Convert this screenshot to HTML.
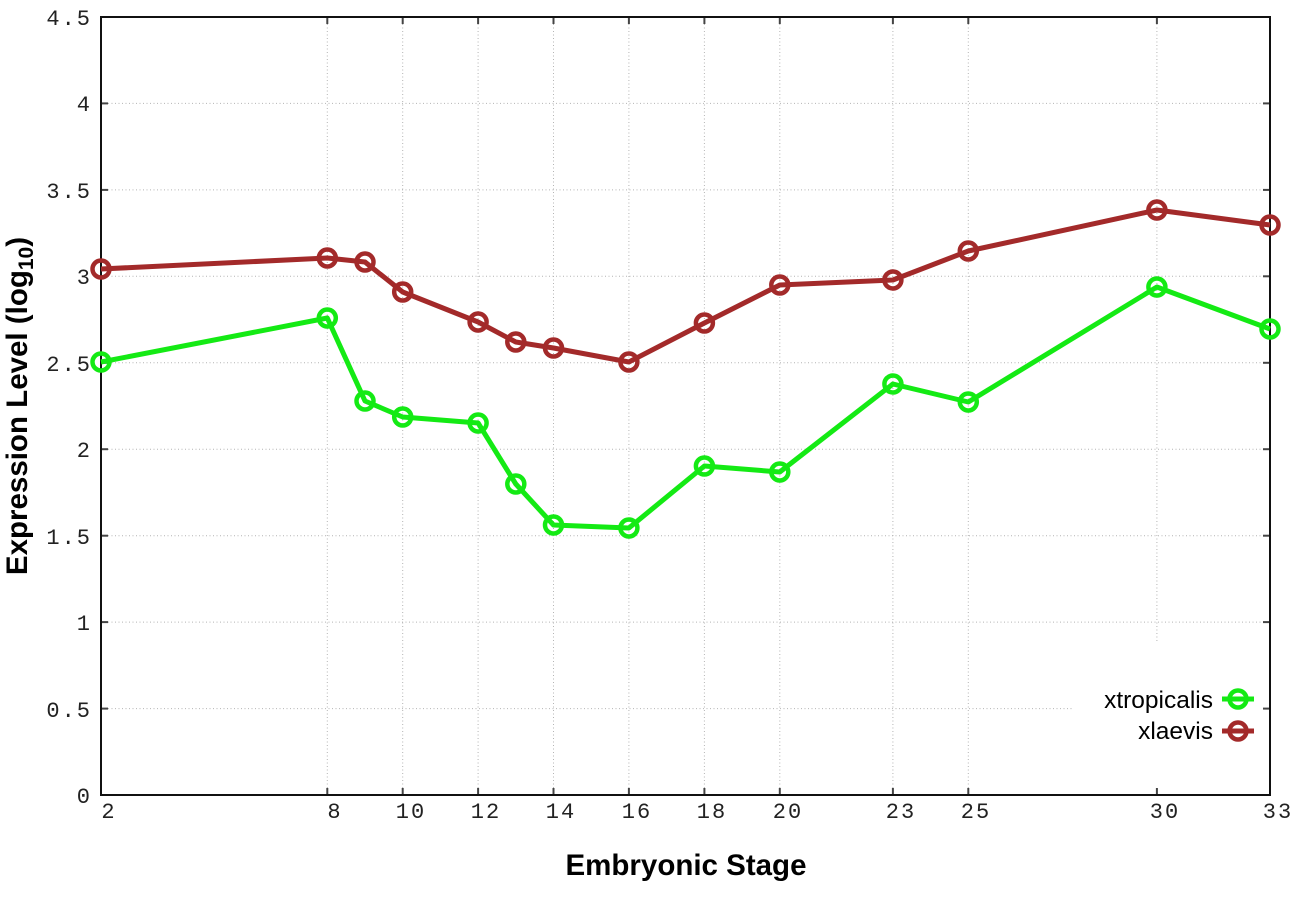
<!DOCTYPE html>
<html><head><meta charset="utf-8"><style>
html,body{margin:0;padding:0;background:#fff;}
svg{display:block;}
</style></head><body>
<svg width="1296" height="907" viewBox="0 0 1296 907" xmlns="http://www.w3.org/2000/svg">
<rect width="1296" height="907" fill="#fff"/>
<!-- grid -->
<g stroke="#b4b4b4" stroke-width="1" stroke-dasharray="1,2.5" fill="none">
<line x1="101" y1="103.4" x2="1270" y2="103.4"/>
<line x1="101" y1="189.9" x2="1270" y2="189.9"/>
<line x1="101" y1="276.3" x2="1270" y2="276.3"/>
<line x1="101" y1="362.8" x2="1270" y2="362.8"/>
<line x1="101" y1="449.2" x2="1270" y2="449.2"/>
<line x1="101" y1="535.7" x2="1270" y2="535.7"/>
<line x1="101" y1="622.1" x2="1270" y2="622.1"/>
<line x1="101" y1="708.6" x2="1270" y2="708.6"/>
<line x1="327.3" y1="17" x2="327.3" y2="795"/>
<line x1="402.7" y1="17" x2="402.7" y2="795"/>
<line x1="478.1" y1="17" x2="478.1" y2="795"/>
<line x1="553.5" y1="17" x2="553.5" y2="795"/>
<line x1="628.9" y1="17" x2="628.9" y2="795"/>
<line x1="704.4" y1="17" x2="704.4" y2="795"/>
<line x1="779.8" y1="17" x2="779.8" y2="795"/>
<line x1="892.9" y1="17" x2="892.9" y2="795"/>
<line x1="968.3" y1="17" x2="968.3" y2="795"/>
<line x1="1156.9" y1="17" x2="1156.9" y2="795"/>
</g>
<!-- legend box -->
<rect x="1072" y="642" width="197" height="152" fill="#fff"/>
<!-- ticks -->
<g stroke="#444" stroke-width="2">
<line x1="101" y1="103.4" x2="108" y2="103.4"/><line x1="1270" y1="103.4" x2="1263" y2="103.4"/>
<line x1="101" y1="189.9" x2="108" y2="189.9"/><line x1="1270" y1="189.9" x2="1263" y2="189.9"/>
<line x1="101" y1="276.3" x2="108" y2="276.3"/><line x1="1270" y1="276.3" x2="1263" y2="276.3"/>
<line x1="101" y1="362.8" x2="108" y2="362.8"/><line x1="1270" y1="362.8" x2="1263" y2="362.8"/>
<line x1="101" y1="449.2" x2="108" y2="449.2"/><line x1="1270" y1="449.2" x2="1263" y2="449.2"/>
<line x1="101" y1="535.7" x2="108" y2="535.7"/><line x1="1270" y1="535.7" x2="1263" y2="535.7"/>
<line x1="101" y1="622.1" x2="108" y2="622.1"/><line x1="1270" y1="622.1" x2="1263" y2="622.1"/>
<line x1="101" y1="708.6" x2="108" y2="708.6"/><line x1="1270" y1="708.6" x2="1263" y2="708.6"/>
<line x1="327.3" y1="795" x2="327.3" y2="788"/><line x1="327.3" y1="17" x2="327.3" y2="24"/>
<line x1="402.7" y1="795" x2="402.7" y2="788"/><line x1="402.7" y1="17" x2="402.7" y2="24"/>
<line x1="478.1" y1="795" x2="478.1" y2="788"/><line x1="478.1" y1="17" x2="478.1" y2="24"/>
<line x1="553.5" y1="795" x2="553.5" y2="788"/><line x1="553.5" y1="17" x2="553.5" y2="24"/>
<line x1="628.9" y1="795" x2="628.9" y2="788"/><line x1="628.9" y1="17" x2="628.9" y2="24"/>
<line x1="704.4" y1="795" x2="704.4" y2="788"/><line x1="704.4" y1="17" x2="704.4" y2="24"/>
<line x1="779.8" y1="795" x2="779.8" y2="788"/><line x1="779.8" y1="17" x2="779.8" y2="24"/>
<line x1="892.9" y1="795" x2="892.9" y2="788"/><line x1="892.9" y1="17" x2="892.9" y2="24"/>
<line x1="968.3" y1="795" x2="968.3" y2="788"/><line x1="968.3" y1="17" x2="968.3" y2="24"/>
<line x1="1156.9" y1="795" x2="1156.9" y2="788"/><line x1="1156.9" y1="17" x2="1156.9" y2="24"/>
</g>
<!-- frame -->
<rect x="101" y="17" width="1169" height="778" fill="none" stroke="#111" stroke-width="2"/>
<!-- y tick labels -->
<g font-family="'Liberation Mono', monospace" font-size="22" fill="#222" text-anchor="end" letter-spacing="2">
<text x="92" y="25">4.5</text>
<text x="92" y="111">4</text>
<text x="92" y="198">3.5</text>
<text x="92" y="284">3</text>
<text x="92" y="371">2.5</text>
<text x="92" y="457">2</text>
<text x="92" y="544">1.5</text>
<text x="92" y="630">1</text>
<text x="92" y="717">0.5</text>
<text x="92" y="803">0</text>
</g>
<!-- x tick labels -->
<g font-family="'Liberation Mono', monospace" font-size="22" fill="#222" text-anchor="middle" letter-spacing="2">
<text x="109" y="818">2</text>
<text x="335" y="818">8</text>
<text x="411" y="818">10</text>
<text x="486" y="818">12</text>
<text x="561" y="818">14</text>
<text x="637" y="818">16</text>
<text x="712" y="818">18</text>
<text x="788" y="818">20</text>
<text x="901" y="818">23</text>
<text x="976" y="818">25</text>
<text x="1165" y="818">30</text>
<text x="1278" y="818">33</text>
</g>
<!-- axis titles -->
<text x="686" y="875" font-family="'Liberation Sans', Arial, sans-serif" font-size="29.5" font-weight="bold" text-anchor="middle" fill="#000">Embryonic Stage</text>
<text transform="translate(27,406) rotate(-90)" font-family="'Liberation Sans', Arial, sans-serif" font-size="29.5" font-weight="bold" text-anchor="middle" fill="#000">Expression Level (log<tspan font-size="21" dy="6">10</tspan><tspan dy="-6">)</tspan></text>
<!-- xtropicalis -->
<g stroke="#14ea14" fill="none">
<polyline stroke-width="5" stroke-linejoin="round" points="101,362 327.3,318 365,401 402.7,417 478.1,423 515.8,484 553.5,525 628.9,528 704.4,466 779.8,472 892.9,384 968.3,402 1156.9,287 1270,329"/>
<g stroke-width="4.5">
<circle cx="101" cy="362" r="8.5"/><circle cx="327.3" cy="318" r="8.5"/><circle cx="365" cy="401" r="8.5"/>
<circle cx="402.7" cy="417" r="8.5"/><circle cx="478.1" cy="423" r="8.5"/><circle cx="515.8" cy="484" r="8.5"/>
<circle cx="553.5" cy="525" r="8.5"/><circle cx="628.9" cy="528" r="8.5"/><circle cx="704.4" cy="466" r="8.5"/>
<circle cx="779.8" cy="472" r="8.5"/><circle cx="892.9" cy="384" r="8.5"/><circle cx="968.3" cy="402" r="8.5"/>
<circle cx="1156.9" cy="287" r="8.5"/><circle cx="1270" cy="329" r="8.5"/>
</g>
</g>
<!-- xlaevis -->
<g stroke="#a32a2a" fill="none">
<polyline stroke-width="5" stroke-linejoin="round" points="101,269 327.3,258 365,262 402.7,292 478.1,322 515.8,342 553.5,348 628.9,362 704.4,323 779.8,285 892.9,280 968.3,251 1156.9,210 1270,225"/>
<g stroke-width="4.5">
<circle cx="101" cy="269" r="8.5"/><circle cx="327.3" cy="258" r="8.5"/><circle cx="365" cy="262" r="8.5"/>
<circle cx="402.7" cy="292" r="8.5"/><circle cx="478.1" cy="322" r="8.5"/><circle cx="515.8" cy="342" r="8.5"/>
<circle cx="553.5" cy="348" r="8.5"/><circle cx="628.9" cy="362" r="8.5"/><circle cx="704.4" cy="323" r="8.5"/>
<circle cx="779.8" cy="285" r="8.5"/><circle cx="892.9" cy="280" r="8.5"/><circle cx="968.3" cy="251" r="8.5"/>
<circle cx="1156.9" cy="210" r="8.5"/><circle cx="1270" cy="225" r="8.5"/>
</g>
</g>
<!-- legend -->
<g font-family="'Liberation Sans', Arial, sans-serif" font-size="24.5" fill="#000" text-anchor="end">
<text x="1213" y="708">xtropicalis</text>
<text x="1213" y="739">xlaevis</text>
</g>
<g fill="none" stroke-width="5">
<line x1="1222" y1="699" x2="1254" y2="699" stroke="#14ea14"/>
<circle cx="1238" cy="699" r="8.5" stroke="#14ea14" stroke-width="4.5"/>
<line x1="1222" y1="731" x2="1254" y2="731" stroke="#a32a2a"/>
<circle cx="1238" cy="731" r="8.5" stroke="#a32a2a" stroke-width="4.5"/>
</g>
</svg>
</body></html>
